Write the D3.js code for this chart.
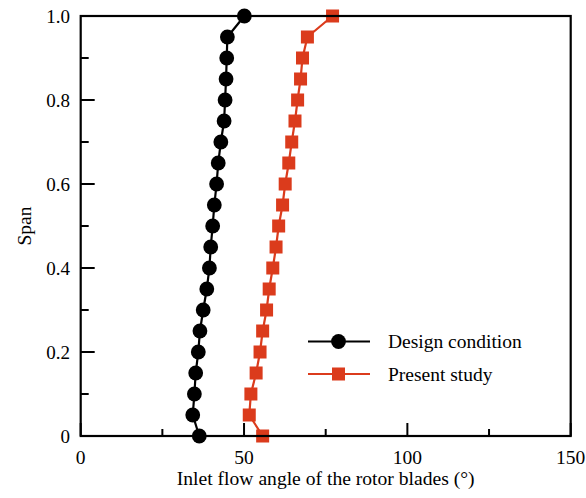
<!DOCTYPE html>
<html><head><meta charset="utf-8">
<script src="https://cdn.jsdelivr.net/npm/d3@7"></script>
<style>body{margin:0;background:#fff}svg{display:block}text{font-family:"Liberation Serif","Times New Roman",serif}</style>
</head><body>
<svg id="chart" width="586" height="498"></svg>
<script>
const spans = [0,0.05,0.1,0.15,0.2,0.25,0.3,0.35,0.4,0.45,0.5,0.55,0.6,0.65,0.7,0.75,0.8,0.85,0.9,0.95,1.0];
const designCondition = [36.3,34.3,34.8,35.2,36.0,36.5,37.5,38.6,39.4,39.8,40.4,40.9,41.6,42.1,42.9,43.9,44.2,44.5,44.7,44.9,50.1];
const presentStudy = [55.7,51.6,52.1,53.7,54.9,55.7,56.9,57.7,58.8,59.8,60.6,61.8,62.6,63.7,64.6,65.6,66.4,67.3,67.9,69.4,77.1];
const xTickLabels = [0,50,100,150];
const yTickLabels = [0,0.2,0.4,0.6,0.8,1.0];
const seriesNames = ["Design condition","Present study"];
const colors = ["#000000","#db3b1c"];

const svg = d3.select("#chart");
const m = {l:80.7, r:570.7, t:16, b:436};
const x = d3.scaleLinear().domain([0,150]).range([m.l,m.r]);
const y = d3.scaleLinear().domain([0,1]).range([m.b,m.t]);

const line = d3.line().x(d=>x(d[0])).y(d=>y(d[1]));
const series = [designCondition, presentStudy];
series.forEach((vals,i)=>{
  const pts = vals.map((v,j)=>[v,spans[j]]);
  svg.append("path").attr("d",line(pts)).attr("fill","none")
    .attr("stroke",colors[i]).attr("stroke-width",2.2);
  if(i===0){
    svg.selectAll(null).data(pts).enter().append("circle")
      .attr("cx",d=>x(d[0])).attr("cy",d=>y(d[1])).attr("r",7.4).attr("fill",colors[i]);
  } else {
    const s=13;
    svg.selectAll(null).data(pts).enter().append("rect")
      .attr("x",d=>x(d[0])-s/2).attr("y",d=>y(d[1])-s/2).attr("width",s).attr("height",s).attr("fill",colors[i]);
  }
});

// frame
svg.append("rect").attr("x",m.l).attr("y",m.t).attr("width",m.r-m.l).attr("height",m.b-m.t)
  .attr("fill","none").attr("stroke","#000").attr("stroke-width",2.2);

// x ticks (inside)
const xMinor = d3.range(0,151,25);
svg.selectAll(null).data(xMinor).enter().append("line")
  .attr("x1",d=>x(d)).attr("x2",d=>x(d)).attr("y1",m.b).attr("y2",d=>m.b-(d%50===0?13:7))
  .attr("stroke","#000").attr("stroke-width",2);
svg.selectAll(null).data(xTickLabels).enter().append("text")
  .attr("x",d=>x(d)).attr("y",464).attr("text-anchor","middle").attr("font-size",19.5).text(d=>d);

// y ticks
const yMinor = d3.range(0,11).map(i=>i/10);
svg.selectAll(null).data(yMinor).enter().append("line")
  .attr("x1",m.l).attr("x2",(d,i)=>m.l+(i%2===0?14:8)).attr("y1",d=>y(d)).attr("y2",d=>y(d))
  .attr("stroke","#000").attr("stroke-width",2);
svg.selectAll(null).data(yTickLabels).enter().append("text")
  .attr("x",70).attr("y",d=>y(d)+6.5).attr("text-anchor","end").attr("font-size",19)
  .text(d=>d===0?"0":d3.format(".1f")(d));

// axis titles
svg.append("text").attr("x",(m.l+m.r)/2).attr("y",485).attr("text-anchor","middle").attr("font-size",19.6)
  .text("Inlet flow angle of the rotor blades (°)");
svg.append("text").attr("transform","translate(31,226) rotate(-90)").attr("text-anchor","middle").attr("font-size",19.5)
  .text("Span");

// legend
const leg = [{y:341.5},{y:374}];
seriesNames.forEach((n,i)=>{
  const ly=leg[i].y;
  svg.append("line").attr("x1",308).attr("x2",370).attr("y1",ly).attr("y2",ly).attr("stroke",colors[i]).attr("stroke-width",2.2);
  if(i===0) svg.append("circle").attr("cx",338.5).attr("cy",ly).attr("r",7.4).attr("fill",colors[i]);
  else svg.append("rect").attr("x",338.5-6.5).attr("y",ly-6.5).attr("width",13).attr("height",13).attr("fill",colors[i]);
  svg.append("text").attr("x",388).attr("y",ly+6.5).attr("font-size",19.5).text(n);
});
</script>
</body></html>
